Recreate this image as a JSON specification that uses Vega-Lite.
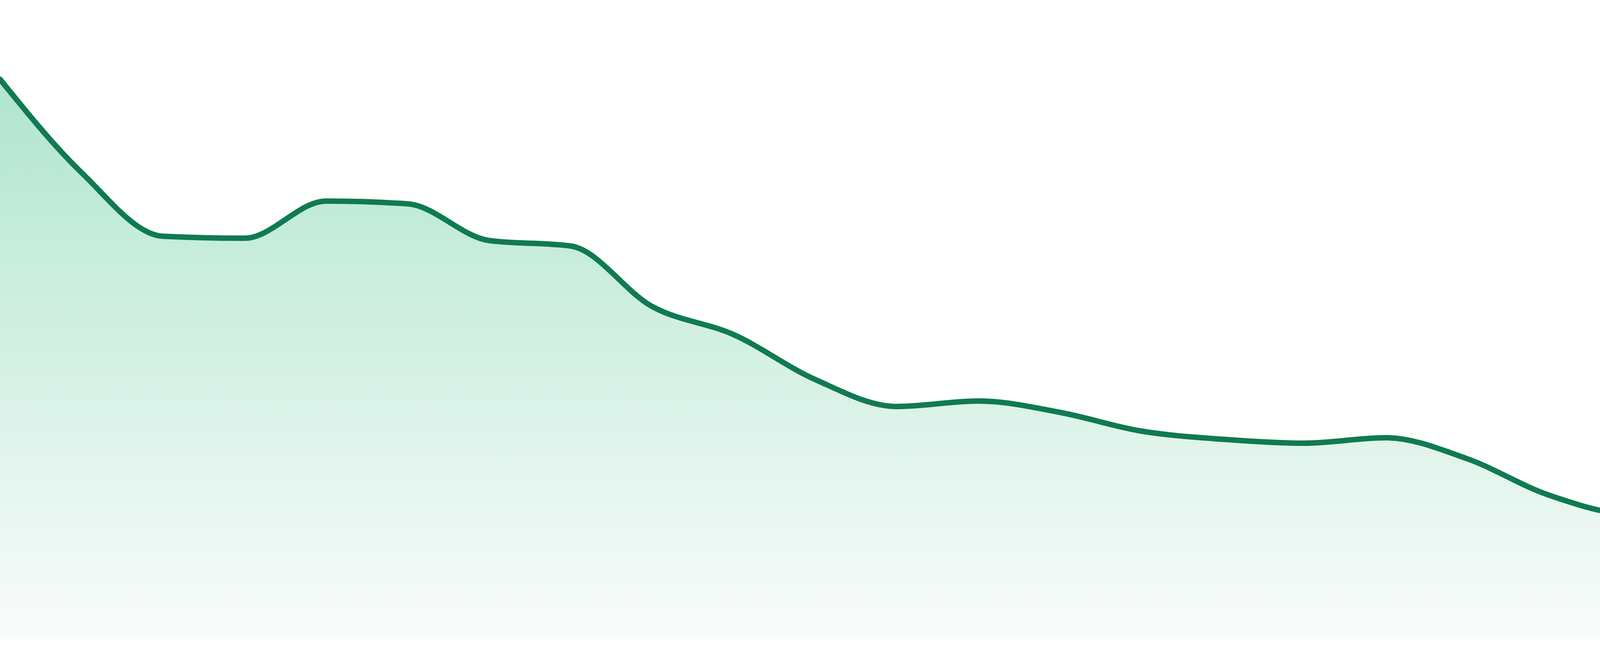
{
  "$schema": "https://vega.github.io/schema/vega-lite/v6.json",
  "width": 4800,
  "height": 1680,
  "autosize": {"type": "none"},
  "padding": 0,
  "background": "#ffffff",
  "config": {"view": {"stroke": null}},
  "data": {
    "values": [
      {"step": 0, "value": 1429},
      {"step": 1, "value": 1190},
      {"step": 2, "value": 1027},
      {"step": 3, "value": 1022},
      {"step": 4, "value": 1117},
      {"step": 5, "value": 1110},
      {"step": 6, "value": 1016},
      {"step": 7, "value": 1002},
      {"step": 8, "value": 847},
      {"step": 9, "value": 775},
      {"step": 10, "value": 660},
      {"step": 11, "value": 591},
      {"step": 12, "value": 605},
      {"step": 13, "value": 576},
      {"step": 14, "value": 528},
      {"step": 15, "value": 507},
      {"step": 16, "value": 497},
      {"step": 17, "value": 511},
      {"step": 18, "value": 457},
      {"step": 19, "value": 364},
      {"step": 20, "value": 316},
      {"step": 21, "value": 319},
      {"step": 22, "value": 300},
      {"step": 23, "value": 287}
    ]
  },
  "encoding": {
    "x": {
      "field": "step",
      "type": "quantitative",
      "scale": {"domain": [0, 23], "nice": false, "zero": false},
      "axis": null
    },
    "y": {
      "field": "value",
      "type": "quantitative",
      "scale": {"domain": [-48, 1632], "nice": false},
      "axis": null
    }
  },
  "layer": [
    {
      "mark": {
        "type": "area",
        "interpolate": "monotone",
        "color": {
          "gradient": "linear",
          "x1": 0, "y1": 0, "x2": 0, "y2": 1,
          "stops": [
            {"offset": 0, "color": "#b0e5cf"},
            {"offset": 1, "color": "#f9fcfb"}
          ]
        }
      }
    },
    {
      "mark": {
        "type": "line",
        "interpolate": "monotone",
        "color": "#107a51",
        "strokeWidth": 14,
        "strokeCap": "round"
      }
    }
  ]
}
